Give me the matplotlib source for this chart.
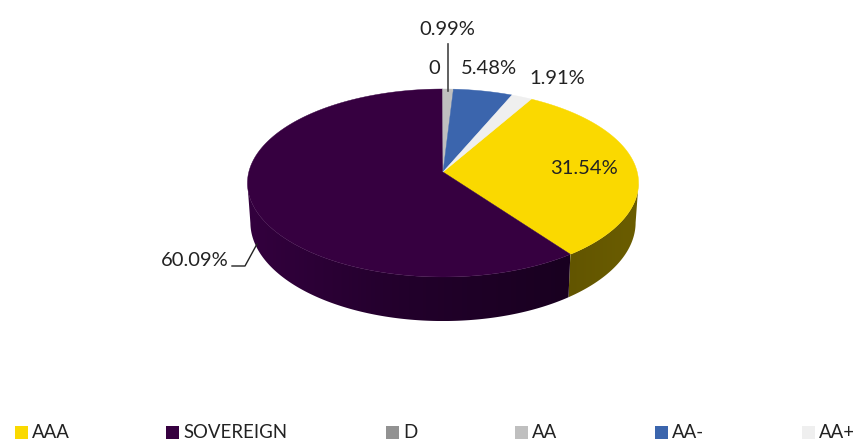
import numpy as np
import matplotlib
matplotlib.use('Agg')
import matplotlib.pyplot as plt
from matplotlib.colors import LinearSegmentedColormap
from matplotlib.patches import Polygon, Rectangle

categories = ['AAA', 'SOVEREIGN', 'D', 'AA', 'AA-', 'AA+']
values = [31.54, 60.09, 0, 0.99, 5.48, 1.91]
data_labels = ['31.54%', '60.09%', '0', '0.99%', '5.48%', '1.91%']
colors = ['#fad900', '#360040', '#929292', '#bfbfbf', '#3b65ad', '#efefef']
side_shades = {'AAA': ['#625500', '#6b5d00'], 'SOVEREIGN': ['#33003e', '#22002b', '#190020']}

label_pos = [(584, 168), (195, 260), (434, 68), (447, 29), (489, 68), (557, 78)]
legend_x = [15, 166, 386, 515, 655, 802]

plt.rcParams['font.family'] = ['Lato', 'DejaVu Sans']

cx, cy = 443, 172
R, S, k = 194.2, 92.7, 0.117
depth = 38.9
start = 30.0


def top_xy(th):
    u, v = np.sin(th), np.cos(th)
    w = 1 + k * v
    return cx + R * u / w, cy - S * v / w


def bottom_xy(th):
    u, v = np.sin(th), np.cos(th)
    w = 1 + k * v
    return cx + 0.985 * R * u / w, cy - S * v / w + depth / w


fig = plt.figure(figsize=(8.54, 4.43), dpi=100)
ax = fig.add_axes([0, 0, 1, 1])

edges = np.radians(start + np.cumsum([0] + values) * 3.6)

# sides: one clipped gradient per visible slice, strips left seams
for i, name in enumerate(categories):
    if name not in side_shades:
        continue
    ts = np.linspace(edges[i], edges[i + 1], 300)
    ts = ts[np.cos(ts) < -k]  # from the widest point of the ellipse round the front
    x0, y0 = top_xy(ts)
    x1, y1 = bottom_xy(ts[::-1])
    pts = np.column_stack([np.r_[x0, x1], np.r_[y0, y1]])
    poly = Polygon(pts, closed=True, fc='none', ec='none')
    ax.add_patch(poly)
    cmap = LinearSegmentedColormap.from_list('side', side_shades[name])
    grad = np.linspace(0, 1, 256).reshape(1, -1)
    im = ax.imshow(grad, cmap=cmap, aspect='auto',
                   extent=[pts[:, 0].min(), pts[:, 0].max(), pts[:, 1].max(), pts[:, 1].min()])
    im.set_clip_path(poly)

# top face
for i in range(len(values)):
    a, b = edges[i], edges[i + 1]
    if b <= a:
        continue
    ts = np.linspace(a, b, 200)
    x, y = top_xy(ts)
    pts = np.column_stack([np.r_[cx, x], np.r_[cy, y]])
    ax.add_patch(Polygon(pts, closed=True, fc=colors[i], ec=colors[i], lw=0.3))

ax.set_xlim(0, 854)
ax.set_ylim(443, 0)
ax.set_aspect('auto')
ax.axis('off')

# leader lines
ax.plot([448, 448], [44, 91], color='#444444', lw=1.2)
ax.plot([232, 245, 257], [266, 266, 244], color='#222222', lw=1)

for txt, (x, y) in zip(data_labels, label_pos):
    ax.text(x, y, txt, ha='center', va='center', fontsize=14.5, color='#222222')

for name, c, x in zip(categories, colors, legend_x):
    ax.add_patch(Rectangle((x, 426), 13, 13, fc=c, ec='none'))
    ax.text(x + 17, 433, name, ha='left', va='center', fontsize=13.4, color='#222222')

fig.savefig('out.png', dpi=100)
